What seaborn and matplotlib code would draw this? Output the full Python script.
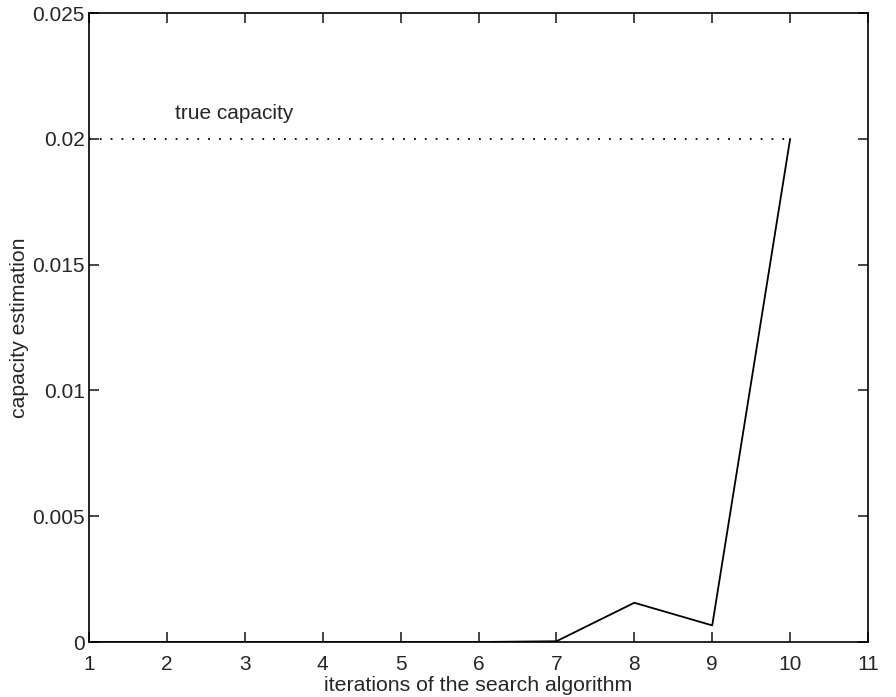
import numpy as np
import matplotlib
matplotlib.use('Agg')
import matplotlib.pyplot as plt
import seaborn as sns

# Estimativa da capacidade por iteração
iteracoes = [1, 2, 3, 4, 5, 6, 7, 8, 9, 10]
capacidade = [0.0, 0.0, 0.0, 0.0, 0.0, 0.0, 0.00003, 0.00156, 0.00066, 0.02]
capacidade_real = 0.02
xticks = [1, 2, 3, 4, 5, 6, 7, 8, 9, 10, 11]
yticks = [0, 0.005, 0.01, 0.015, 0.02, 0.025]
ytick_labels = ['0', '0.005', '0.01', '0.015', '0.02', '0.025']

sns.set_style('ticks')
plt.rcParams['font.family'] = ['Liberation Sans', 'DejaVu Sans']

fig = plt.figure(figsize=(8.96, 6.97), dpi=100)
ax = fig.add_axes([0.0993, 0.0789, 0.8695, 0.9024])

sns.lineplot(x=iteracoes, y=capacidade, color='black', linewidth=1.3, ax=ax)
ax.plot([iteracoes[0], iteracoes[-1]], [capacidade_real, capacidade_real],
        color='black', linestyle=(0, (1, 5)), linewidth=1.3)
ax.text(2.1, 0.0208, 'true capacity', fontsize=15)

ax.set_xlim(1, 11)
ax.set_ylim(0, 0.025)
ax.set_xticks(xticks)
ax.set_yticks(yticks)
ax.set_yticklabels(ytick_labels)
ax.tick_params(direction='in', top=True, right=True, labelsize=15, length=7, width=1.2)
ax.tick_params(axis='x', pad=9)
ax.tick_params(axis='y', pad=3)
for s in ax.spines.values():
    s.set_visible(True)
    s.set_linewidth(1.2)
    s.set_color('black')

ax.set_xlabel('iterations of the search algorithm', fontsize=15.3, labelpad=2)
ax.set_ylabel('capacity estimation', fontsize=15.3, labelpad=2)

plt.savefig('out.png', dpi=100)
